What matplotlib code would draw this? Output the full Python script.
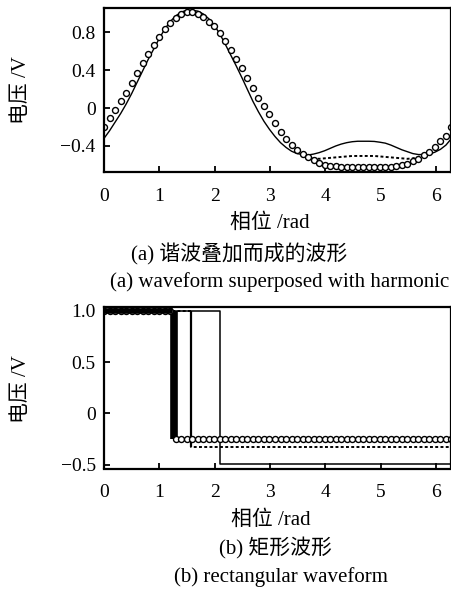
import matplotlib.pyplot as plt
import numpy as np

plt.rcParams['font.family'] = ['Liberation Serif', 'Noto Sans CJK SC']
plt.rcParams['axes.unicode_minus'] = True

W, H = 452, 596

# (a) harmonic superposition, sampled on the phase grid
phase = np.linspace(0, 2 * np.pi, 64)
wave_circle = [-0.20, -0.10, -0.02, 0.07, 0.16, 0.26, 0.37, 0.47, 0.565, 0.66,
               0.75, 0.83, 0.90, 0.95, 0.99, 1.01, 1.01, 0.99, 0.96, 0.91,
               0.865, 0.79, 0.71, 0.61, 0.52, 0.42, 0.32, 0.21, 0.11, 0.02,
               -0.06, -0.16, -0.25, -0.33, -0.39, -0.44, -0.48, -0.52, -0.55, -0.575,
               -0.595, -0.61, -0.615, -0.62, -0.62, -0.62, -0.62, -0.62, -0.62, -0.62,
               -0.62, -0.62, -0.62, -0.615, -0.60, -0.585, -0.56, -0.535, -0.50, -0.46,
               -0.41, -0.35, -0.29, -0.20]
wave_solid = [-0.32, -0.24, -0.15, -0.06, 0.04, 0.15, 0.27, 0.39, 0.51, 0.62,
              0.73, 0.83, 0.91, 0.97, 1.01, 1.03, 1.03, 1.02, 0.99, 0.94,
              0.87, 0.78, 0.67, 0.555, 0.44, 0.32, 0.195, 0.07, -0.04, -0.14,
              -0.225, -0.30, -0.365, -0.415, -0.455, -0.48, -0.49, -0.495, -0.485, -0.47,
              -0.45, -0.425, -0.40, -0.38, -0.365, -0.355, -0.35, -0.35, -0.35, -0.352,
              -0.36, -0.37, -0.39, -0.415, -0.44, -0.46, -0.48, -0.49, -0.49, -0.485,
              -0.465, -0.435, -0.39, -0.32]
# dashed curve, only where it separates from the others (grid index 36..58)
dash_idx = slice(36, 59)
wave_dash = [-0.49, -0.515, -0.53, -0.535, -0.53, -0.525, -0.52, -0.515, -0.51, -0.505,
             -0.505, -0.505, -0.505, -0.505, -0.51, -0.515, -0.52, -0.525, -0.53, -0.535,
             -0.53, -0.515, -0.49]

# (b) rectangular waves: high level, switching phase, low level
rect_high = 1.0
rect_switch = [1.26, 1.57, 2.10]   # circles, dashed, solid
rect_low = [-0.25, -0.33, -0.49]

TICK_FS = 14
LAB_FS = 15


def style(ax):
    for s in ax.spines.values():
        s.set_linewidth(1.6)
    ax.tick_params(direction='in', length=4, width=1.3, labelsize=TICK_FS,
                   top=False, right=False)
    ax.tick_params(axis='x', pad=11)
    ax.tick_params(axis='y', pad=6)
    ax.set_xlim(0, 2 * np.pi)
    ax.set_xticks(range(7))


fig = plt.figure(figsize=(W / 100, H / 100), dpi=100)

# ---- (a)
ax1 = fig.add_axes([104 / W, 1 - 172.3 / H, 347.5 / W, 164 / H])
style(ax1)
ax1.plot(phase, wave_solid, color='black', lw=1.0)
ax1.plot(phase[dash_idx], wave_dash, color='black', lw=1.4, ls=(0, (1.5, 1.2)))
ax1.plot(phase, wave_circle, ls='none', marker='o', ms=4.3, mfc='white',
         mec='black', mew=1.0)
ax1.set_ylim(-0.677, 1.05)
ax1.set_yticks([-0.4, 0, 0.4, 0.8])
ax1.set_yticklabels(['\u22120.4', '0', '0.4', '0.8'])

# ---- (b)
ax2 = fig.add_axes([104 / W, 1 - 468.5 / H, 347.5 / W, 162 / H])
style(ax2)
x_grid = np.linspace(0, 2 * np.pi, 64)
levels = []
for sw, lo in zip(rect_switch, rect_low):
    levels.append(np.where(x_grid < sw, rect_high, lo))

# solid
ax2.plot([0, rect_switch[2], rect_switch[2], 2 * np.pi],
         [rect_high, rect_high, rect_low[2], rect_low[2]], color='black', lw=1.1)
# dashed
ax2.plot([0, rect_switch[1], rect_switch[1], 2 * np.pi],
         [rect_high, rect_high, rect_low[1], rect_low[1]], color='black', lw=1.4,
         ls=(0, (1.5, 1.2)))
ax2.vlines(rect_switch[1], rect_low[1], rect_high, color='black', lw=1.6)
# circles
ax2.vlines(rect_switch[0], rect_low[0], rect_high, color='black', lw=5.5)
ax2.plot(x_grid, levels[0], ls='none', marker='o', ms=4.3, mfc='white',
         mec='black', mew=1.0)
ax2.plot(x_grid[x_grid < rect_switch[0]], levels[0][x_grid < rect_switch[0]],
         color='black', lw=4)
ax2.set_ylim(-0.535, 1.04)
ax2.set_yticks([-0.5, 0, 0.5, 1.0])
ax2.set_yticklabels(['\u22120.5', '0', '0.5', '1.0'])


def ftxt(px, py, s, size, **kw):
    fig.text(px / W, 1 - py / H, s, fontsize=size, ha=kw.pop('ha', 'center'),
             va='center', **kw)


ftxt(22, 90, '电压 /V', LAB_FS, rotation=90)
ftxt(22, 389, '电压 /V', LAB_FS, rotation=90)
ftxt(270, 223, '相位 /rad', LAB_FS)
ftxt(271, 520, '相位 /rad', LAB_FS)
ftxt(239, 254, '(a) 谐波叠加而成的波形', LAB_FS)
ftxt(110, 282, '(a) waveform superposed with harmonic', LAB_FS, ha='left')
ftxt(275, 548, '(b) 矩形波形', LAB_FS)
ftxt(281, 577, '(b) rectangular waveform', LAB_FS)

fig.savefig('out.png', dpi=100)
